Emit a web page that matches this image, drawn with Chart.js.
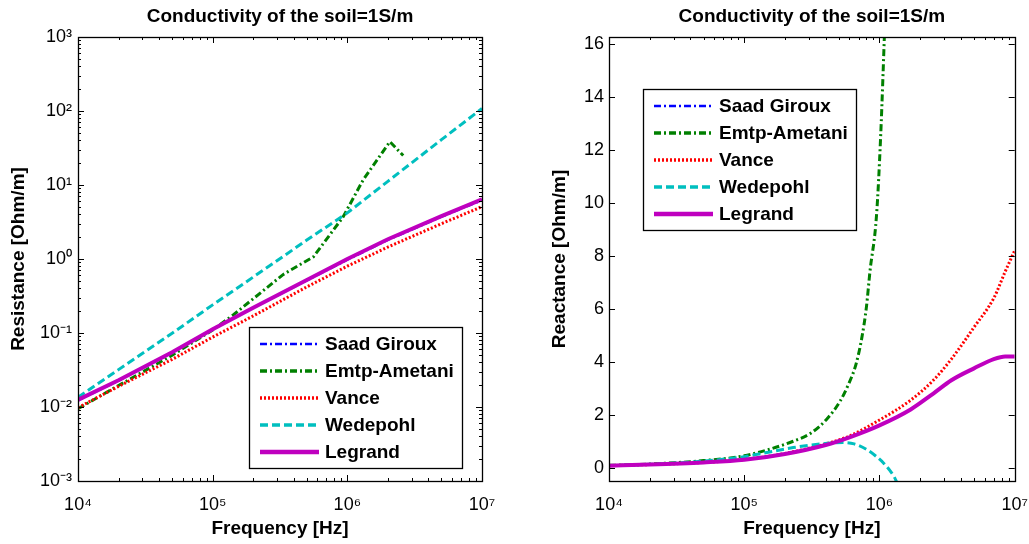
<!DOCTYPE html>
<html>
<head>
<meta charset="utf-8">
<script src="https://cdn.jsdelivr.net/npm/chart.js@4/dist/chart.umd.min.js"></script>
<style>
  body { margin: 0; background: #fff; overflow: hidden; }
  .panel { position: absolute; top: 0; height: 544px; }
</style>
</head>
<body>
<div class="panel" style="left:0;width:514px"><canvas id="resistance-chart"></canvas></div>
<div class="panel" style="left:514px;width:527px"><canvas id="reactance-chart"></canvas></div>
<script>
const seriesNames = ['Saad Giroux', 'Emtp-Ametani', 'Vance', 'Wedepohl', 'Legrand'];
const plotTitle = 'Conductivity of the soil=1S/m';

// left panel: resistance, log-log
const rFreq = [1e4, 2e4, 5e4, 1e5, 2e5, 5e5, 1e6, 2e6, 5e6, 1e7];
const rSaad = [0.0122, 0.0226, 0.054, 0.112, 0.218, 0.51, 0.97, 1.8, 3.7, 6.2];
const rVance = [0.0098, 0.019, 0.044, 0.088, 0.17, 0.42, 0.8, 1.45, 3.0, 5.1];
const rWedepohl = [0.0135, 0.032, 0.099, 0.24, 0.57, 1.8, 4.2, 11.2, 41, 108];
const rLegrand = [0.0125, 0.023, 0.055, 0.112, 0.22, 0.52, 1.0, 1.85, 3.8, 6.4];
const rEmtpFreq = [1e4, 2e4, 5e4, 1e5, 1.42e5, 2e5, 3.35e5, 5.6e5, 9.3e5, 1.31e6, 2.07e6, 2.6e6];
const rEmtp = [0.0095, 0.0195, 0.05, 0.11, 0.175, 0.29, 0.62, 1.07, 3.7, 11.7, 38.5, 25];

// right panel: reactance, log x
const xFreq = [1e4, 2e4, 5e4, 1e5, 2e5, 4e5, 6e5, 1e6, 1.7e6, 2.5e6, 3.4e6, 5e6, 7e6, 8.5e6, 1e7];
const xSaad = [0.08, 0.12, 0.2, 0.3, 0.52, 0.86, 1.15, 1.6, 2.2, 2.8, 3.3, 3.75, 4.1, 4.19, 4.2];
const xVance = [0.08, 0.12, 0.2, 0.31, 0.54, 0.9, 1.2, 1.8, 2.55, 3.3, 4.1, 5.3, 6.4, 7.4, 8.2];
const xLegrand = [0.08, 0.12, 0.2, 0.3, 0.52, 0.86, 1.15, 1.6, 2.2, 2.8, 3.3, 3.75, 4.1, 4.2, 4.2];
const xEmtpFreq = [1e4, 2e4, 5e4, 1e5, 1.5e5, 2.3e5, 3.1e5, 4.1e5, 5.1e5, 5.9e5, 6.7e5, 7.4e5, 8e5, 8.5e5, 9.5e5, 1.02e6, 1.1e6];
const xEmtp = [0.09, 0.14, 0.27, 0.45, 0.68, 1.0, 1.3, 1.85, 2.5, 3.15, 3.9, 4.9, 6.05, 7.4, 9.5, 12.5, 17];
const xWedFreq = [1e4, 2e4, 5e4, 1e5, 1.32e5, 2.3e5, 4.1e5, 5.4e5, 6.5e5, 8.1e5, 9.5e5, 1.07e6, 1.2e6, 1.28e6, 1.4e6];
const xWedepohl = [0.08, 0.13, 0.25, 0.42, 0.53, 0.76, 0.92, 0.95, 0.9, 0.68, 0.42, 0.18, -0.12, -0.33, -0.75];

const reactanceTicks = [0, 2, 4, 6, 8, 10, 12, 14, 16];

const FONT = '"Liberation Sans", Arial, Helvetica, sans-serif';
Chart.defaults.font.family = FONT;
Chart.defaults.color = '#000';

const styles = [
  { color: '#0000ff', dash: [7, 3, 2, 3], width: 2 },
  { color: '#008000', dash: [7, 3, 2, 3], width: 3 },
  { color: '#ff0000', dash: [2, 2], width: 3 },
  { color: '#00bfbf', dash: [8, 4], width: 3 },
  { color: '#bf00bf', dash: [], width: 4 }
];

const sup = { '-': '\u207B', '0': '\u2070', '1': '\u00B9', '2': '\u00B2', '3': '\u00B3', '4': '\u2074',
  '5': '\u2075', '6': '\u2076', '7': '\u2077', '8': '\u2078', '9': '\u2079' };
const isPow10 = v => Math.abs(Math.log10(v) - Math.round(Math.log10(v))) < 1e-9;
const powerLabel = v => '10' + String(Math.round(Math.log10(v))).split('').map(c => sup[c]).join('');

// log tick marks 1..9 per decade
const logTicks = (lo, hi) => {
  const out = [];
  for (let d = lo; d < hi; d++) {
    for (let m = 1; m < 10; m++) out.push(m * Math.pow(10, d));
  }
  out.push(Math.pow(10, hi));
  return out;
};

const makeSet = (i, freq, vals, smooth) => ({
  label: seriesNames[i],
  data: freq.map((f, k) => ({ x: f, y: vals[k] })),
  borderColor: styles[i].color,
  borderDash: styles[i].dash,
  borderWidth: styles[i].width,
  pointRadius: 0,
  fill: false,
  order: 4 - i,
  cubicInterpolationMode: smooth ? 'monotone' : 'default'
});

// MATLAB-like box with inward ticks, title centred over the axes
const boxTicks = {
  id: 'boxTicks',
  afterDraw(chart) {
    const { ctx, chartArea: a, scales } = chart;
    ctx.save();
    ctx.strokeStyle = '#000';
    ctx.lineWidth = 1;
    ctx.beginPath();
    scales.x.ticks.forEach(t => {
      const p = Math.round(scales.x.getPixelForValue(t.value)) + 0.5;
      const len = t.label ? 6 : 3;
      ctx.moveTo(p, a.bottom); ctx.lineTo(p, a.bottom - len);
      ctx.moveTo(p, a.top); ctx.lineTo(p, a.top + len);
    });
    scales.y.ticks.forEach(t => {
      const p = Math.round(scales.y.getPixelForValue(t.value)) + 0.5;
      const len = t.label ? 6 : 3;
      ctx.moveTo(a.left, p); ctx.lineTo(a.left + len, p);
      ctx.moveTo(a.right, p); ctx.lineTo(a.right - len, p);
    });
    ctx.stroke();
    ctx.lineWidth = 1.3;
    ctx.strokeRect(Math.round(a.left) + 0.5, Math.round(a.top) + 0.5, Math.round(a.width), Math.round(a.height));
    ctx.font = 'bold 19px ' + FONT;
    ctx.fillStyle = '#000';
    ctx.textAlign = 'center';
    ctx.textBaseline = 'middle';
    ctx.fillText(plotTitle, (a.left + a.right) / 2, 17);
    ctx.restore();
  }
};

// boxed legend inside the axes
const boxLegend = {
  id: 'boxLegend',
  afterDraw(chart, args, opts) {
    const { ctx } = chart;
    const w = 213, h = 141, row = 27;
    ctx.save();
    ctx.fillStyle = '#fff';
    ctx.fillRect(opts.x, opts.y, w, h);
    ctx.strokeStyle = '#000';
    ctx.lineWidth = 1.3;
    ctx.strokeRect(opts.x + 0.5, opts.y + 0.5, w, h);
    ctx.font = 'bold 19px ' + FONT;
    ctx.textBaseline = 'middle';
    ctx.fillStyle = '#000';
    chart.data.datasets.forEach((ds, i) => {
      const y = opts.y + 17 + i * row;
      ctx.beginPath();
      ctx.strokeStyle = ds.borderColor;
      ctx.lineWidth = ds.borderWidth + 0.5;
      ctx.setLineDash(ds.borderDash);
      ctx.moveTo(opts.x + 11, y);
      ctx.lineTo(opts.x + 70, y);
      ctx.stroke();
      ctx.setLineDash([]);
      ctx.fillText(ds.label, opts.x + 76, y + 1);
    });
    ctx.restore();
  }
};

const freqAxis = {
  type: 'logarithmic',
  min: 1e4,
  max: 1e7,
  afterBuildTicks: axis => { axis.ticks = logTicks(4, 7).map(v => ({ value: v })); },
  afterFit: axis => { axis.height = 63; },
  grid: { display: false, drawTicks: false },
  border: { display: false },
  ticks: {
    autoSkip: false,
    maxRotation: 0,
    padding: 13,
    font: { size: 18 },
    callback: v => isPow10(v) ? powerLabel(v) : ''
  },
  title: { display: true, text: 'Frequency [Hz]', font: { size: 19, weight: 'bold' }, padding: { top: 0, bottom: 4 } }
};

const createChart = (idElement, config) => new Chart(document.getElementById(idElement), config);

createChart('resistance-chart', {
  type: 'line',
  data: {
    datasets: [
      makeSet(0, rFreq, rSaad, false),
      makeSet(1, rEmtpFreq, rEmtp, false),
      makeSet(2, rFreq, rVance, false),
      makeSet(3, rFreq, rWedepohl, false),
      makeSet(4, rFreq, rLegrand, false)
    ]
  },
  options: {
    responsive: true,
    maintainAspectRatio: false,
    animation: false,
    layout: { padding: { left: 0, right: 32, top: 37, bottom: 0 } },
    plugins: {
      legend: { display: false },
      tooltip: { enabled: false },
      title: { display: false },
      boxLegend: { x: 249, y: 327 }
    },
    scales: {
      x: freqAxis,
      y: {
        type: 'logarithmic',
        min: 1e-3,
        max: 1e3,
        afterBuildTicks: axis => { axis.ticks = logTicks(-3, 3).map(v => ({ value: v })); },
        afterFit: axis => { axis.width = 78; },
        grid: { display: false, drawTicks: false },
        border: { display: false },
        ticks: {
          autoSkip: false,
          padding: 6,
          font: { size: 18 },
          callback: v => isPow10(v) ? powerLabel(v) : ''
        },
        title: { display: true, text: 'Resistance [Ohm/m]', font: { size: 19, weight: 'bold' }, padding: { top: 7 } }
      }
    }
  },
  plugins: [boxTicks, boxLegend]
});

createChart('reactance-chart', {
  type: 'line',
  data: {
    datasets: [
      makeSet(0, xFreq, xSaad, true),
      makeSet(1, xEmtpFreq, xEmtp, true),
      makeSet(2, xFreq, xVance, true),
      makeSet(3, xWedFreq, xWedepohl, true),
      makeSet(4, xFreq, xLegrand, true)
    ]
  },
  options: {
    responsive: true,
    maintainAspectRatio: false,
    animation: false,
    layout: { padding: { left: 0, right: 0, top: 37, bottom: 0 } },
    plugins: {
      legend: { display: false },
      tooltip: { enabled: false },
      title: { display: false },
      boxLegend: { x: 129, y: 89 }
    },
    scales: {
      x: freqAxis,
      y: {
        type: 'linear',
        min: -0.5,
        max: 16.25,
        afterBuildTicks: axis => { axis.ticks = reactanceTicks.map(v => ({ value: v })); },
        afterFit: axis => { axis.width = 95; },
        grid: { display: false, drawTicks: false },
        border: { display: false },
        ticks: { autoSkip: false, padding: 5, font: { size: 18 } },
        title: { display: true, text: 'Reactance [Ohm/m]', font: { size: 19, weight: 'bold' }, padding: { top: 34 } }
      }
    }
  },
  plugins: [boxTicks, boxLegend]
});
</script>
</body>
</html>
